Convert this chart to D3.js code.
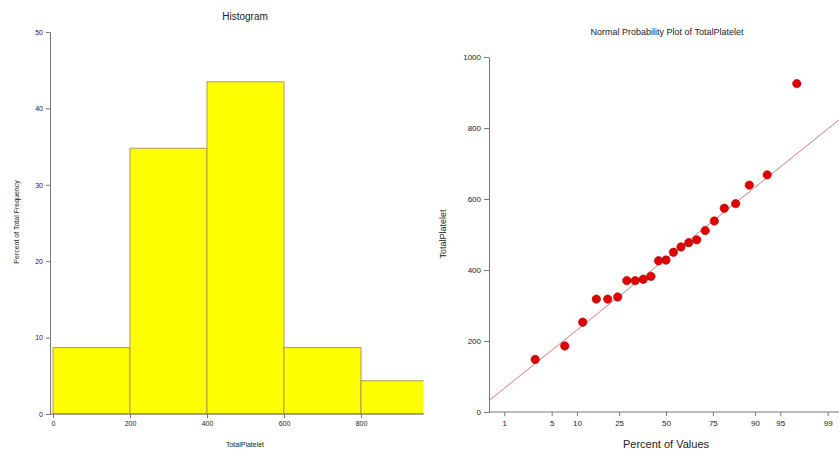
<!DOCTYPE html>
<meta charset="utf-8">
<head>
  <title>TotalPlatelet</title>
</head>
<style>
  body { margin: 0; background: #fff; }
  svg text { font-family: "Liberation Sans", Arial, sans-serif; fill: #222; }
  .axis path, .axis line { stroke: #777; }
</style>
<body>
  <svg id="chart" width="839" height="454"></svg>

  <script src="https://d3js.org/d3.v7.min.js"></script>
  <script>

  // the TotalPlatelet values (sorted)
  var platelet = [148, 186, 253, 318, 318, 324, 370, 370, 374, 382, 426, 428,
                  450, 465, 477, 485, 511, 538, 574, 587, 639, 668, 925];

  // histogram bins
  var binEdges = [0, 200, 400, 600, 800, 1000];
  var histXTicks = [0, 200, 400, 600, 800];
  var histYTicks = [0, 10, 20, 30, 40, 50];

  // probability plot axis
  var pctTicks = [1, 5, 10, 25, 50, 75, 90, 95, 99];
  var probYTicks = [0, 200, 400, 600, 800, 1000];
  // reference line: value = fitMean + fitSlope * z
  var fitMean = 432, fitSlope = 157;

  var svg = d3.select("#chart");

  // inverse normal cdf (Acklam)
  function qnorm(p) {
    var a = [-39.69683028665376, 220.9460984245205, -275.9285104469687, 138.3577518672690, -30.66479806614716, 2.506628277459239],
        b = [-54.47609879822406, 161.5858368580409, -155.6989798598866, 66.80131188771972, -13.28068155288572],
        c = [-0.007784894002430293, -0.3223964580411365, -2.400758277161838, -2.549732539343734, 4.374664141464968, 2.938163982698783],
        d = [0.007784695709041462, 0.3224671290700398, 2.445134137142996, 3.754408661907416];
    var q, r, pl = 0.02425;
    if (p < pl) {
      q = Math.sqrt(-2 * Math.log(p));
      return (((((c[0]*q+c[1])*q+c[2])*q+c[3])*q+c[4])*q+c[5]) / ((((d[0]*q+d[1])*q+d[2])*q+d[3])*q+1);
    }
    if (p > 1 - pl) {
      q = Math.sqrt(-2 * Math.log(1 - p));
      return -(((((c[0]*q+c[1])*q+c[2])*q+c[3])*q+c[4])*q+c[5]) / ((((d[0]*q+d[1])*q+d[2])*q+d[3])*q+1);
    }
    q = p - 0.5; r = q * q;
    return (((((a[0]*r+a[1])*r+a[2])*r+a[3])*r+a[4])*r+a[5])*q / (((((b[0]*r+b[1])*r+b[2])*r+b[3])*r+b[4])*r+1);
  }

  // ---------------- Histogram ----------------
  var hx = d3.scaleLinear().domain([0, 1000]).range([53, 438]);
  var hy = d3.scaleLinear().domain([0, 50]).range([414, 32]);

  var bins = d3.bin().domain([0, 1000]).thresholds(binEdges.slice(1, -1))(platelet);
  var n = platelet.length;

  svg.append("defs").append("clipPath").attr("id", "histClip")
    .append("rect").attr("x", 40).attr("y", 20).attr("width", 383.5).attr("height", 400);

  svg.append("g").attr("clip-path", "url(#histClip)")
    .selectAll("rect")
    .data(bins)
    .enter()
    .append("rect")
      .attr("x", function(d) { return hx(d.x0); })
      .attr("y", function(d) { return hy(d.length / n * 100); })
      .attr("width", function(d) { return hx(d.x1) - hx(d.x0); })
      .attr("height", function(d) { return hy(0) - hy(d.length / n * 100); })
      .style("fill", "#ffff00")
      .style("stroke", "#b4955a")
      .style("stroke-width", 1);

  svg.append("g").attr("class", "axis")
    .attr("transform", "translate(50,0)")
    .call(d3.axisLeft(hy).tickValues(histYTicks).tickSize(4).tickSizeOuter(0).tickFormat(d3.format("d")))
    .call(function(g) { g.selectAll("text").style("font-size", "7px"); });

  svg.append("g").attr("class", "axis")
    .attr("transform", "translate(0,414)")
    .call(d3.axisBottom(hx).tickValues(histXTicks).tickSize(4).tickSizeOuter(0))
    .call(function(g) {
      g.select(".domain").attr("d", "M50,0H423.5");
      g.selectAll("text").style("font-size", "7px");
    });

  svg.append("text").attr("x", 245).attr("y", 20).attr("text-anchor", "middle")
    .style("font-size", "10px").text("Histogram");
  svg.append("text").attr("x", 245).attr("y", 447).attr("text-anchor", "middle")
    .style("font-size", "7px").text("TotalPlatelet");
  svg.append("text").attr("transform", "translate(19,222) rotate(-90)").attr("text-anchor", "middle")
    .style("font-size", "7px").text("Percent of Total Frequency");

  // ---------------- Normal probability plot ----------------
  var pz = d3.scaleLinear().domain([0, 1]).range([666, 735.5]);
  var py = d3.scaleLinear().domain([0, 1000]).range([412, 57]);
  var zLeft = pz.invert(489), zRight = pz.invert(839);

  // median-rank plotting positions
  var pts = platelet.map(function(v, i) {
    return { z: qnorm((i + 1 - 0.3) / (n + 0.4)), v: v };
  });

  svg.append("line")
    .attr("x1", pz(zLeft)).attr("y1", py(fitMean + fitSlope * zLeft))
    .attr("x2", pz(zRight)).attr("y2", py(fitMean + fitSlope * zRight))
    .style("stroke", "#d77a7a").style("stroke-width", 1);

  svg.append("g").attr("class", "axis")
    .attr("transform", "translate(489,0)")
    .call(d3.axisLeft(py).tickValues(probYTicks).tickSize(5).tickSizeOuter(0).tickFormat(d3.format("d")))
    .call(function(g) { g.selectAll("text").style("font-size", "8px"); });

  svg.append("g").attr("class", "axis")
    .attr("transform", "translate(0,412)")
    .call(d3.axisBottom(pz)
      .tickValues(pctTicks.map(function(p) { return qnorm(p / 100); }))
      .tickFormat(function(d, i) { return pctTicks[i]; })
      .tickSize(4).tickSizeOuter(0))
    .call(function(g) {
      g.select(".domain").attr("d", "M489,0H839");
      g.selectAll("text").style("font-size", "8px").attr("dy", "0.9em");
    });

  svg.selectAll("circle.pt")
    .data(pts)
    .enter()
    .append("circle")
      .attr("class", "pt")
      .attr("cx", function(d) { return pz(d.z); })
      .attr("cy", function(d) { return py(d.v); })
      .attr("r", 4.2)
      .style("fill", "#e00000")
      .style("stroke", "#a00000")
      .style("stroke-width", 0.6);

  svg.append("text").attr("x", 667).attr("y", 35).attr("text-anchor", "middle")
    .style("font-size", "9px").text("Normal Probability Plot of TotalPlatelet");
  svg.append("text").attr("x", 666).attr("y", 448).attr("text-anchor", "middle")
    .style("font-size", "11px").text("Percent of Values");
  svg.append("text").attr("transform", "translate(446,234) rotate(-90)").attr("text-anchor", "middle")
    .style("font-size", "9px").text("TotalPlatelet");

  </script>
</body>
</html>
